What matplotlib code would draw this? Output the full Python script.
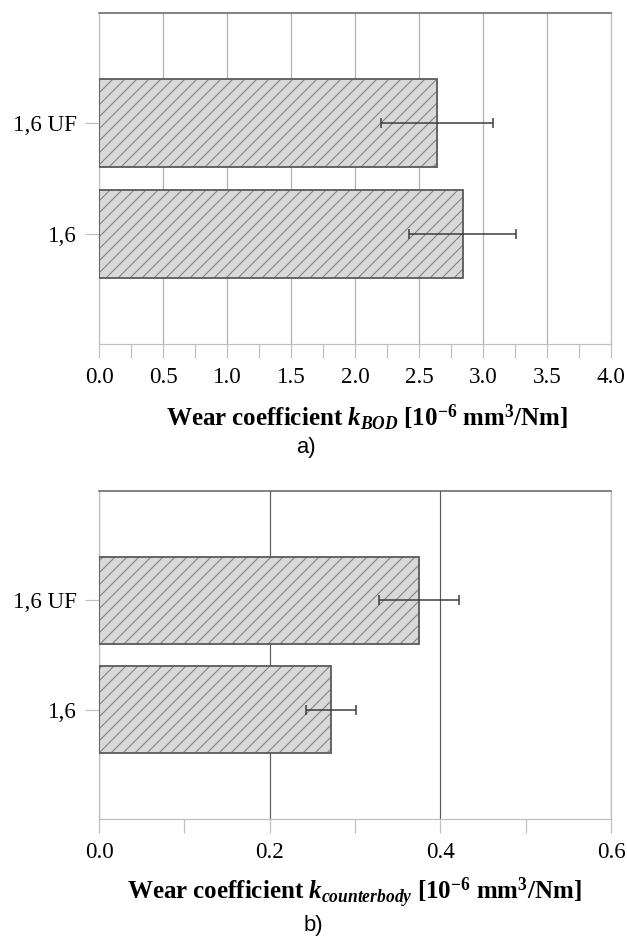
import matplotlib
matplotlib.use("Agg")
import matplotlib.pyplot as plt
from matplotlib.ticker import MultipleLocator

# data
categories = ["1,6", "1,6 UF"]
k_bod = [2.84, 2.64]
k_bod_err = [0.42, 0.44]
k_cb = [0.272, 0.375]
k_cb_err = [0.029, 0.047]

plt.rcParams["font.family"] = ["Liberation Serif", "DejaVu Serif"]
plt.rcParams["mathtext.fontset"] = "custom"
plt.rcParams["mathtext.rm"] = "Liberation Serif"
plt.rcParams["mathtext.it"] = "Liberation Serif:italic"
plt.rcParams["mathtext.bf"] = "Liberation Serif:bold"
plt.rcParams["mathtext.bfit"] = "Liberation Serif:italic:bold"
plt.rcParams["hatch.linewidth"] = 1.0

W, H = 627, 946
fig = plt.figure(figsize=(W / 72, H / 72), dpi=72)

def px(x, y):
    return x / W, 1 - y / H

def make_panel(top, bottom, vals, errs, xmax, major, minor, gridcol):
    l, t = px(99, top)
    r, b = px(611, bottom)
    ax = fig.add_axes([l, b, r - l, t - b])
    y = range(len(categories))
    ax.barh(y, vals, height=0.8, color="#d9d9d9", edgecolor="#7a7a7a",
            hatch="//", linewidth=0, zorder=2)
    ax.barh(y, vals, height=0.8, fill=False, edgecolor="#5a5a5a",
            linewidth=1.8, zorder=3)
    ax.errorbar(vals, y, xerr=errs, fmt="none", ecolor="#3a3a3a",
                elinewidth=1.5, capsize=5, capthick=1.5, zorder=4)
    ax.set_xlim(0, xmax)
    ax.set_ylim(-1, 2)
    ax.set_yticks(list(y))
    ax.set_yticklabels(categories)
    ax.xaxis.set_major_locator(MultipleLocator(major))
    ax.xaxis.set_minor_locator(MultipleLocator(minor))
    ax.xaxis.set_major_formatter(matplotlib.ticker.FormatStrFormatter("%.1f"))
    ax.grid(axis="x", which="major", color=gridcol, linewidth=1.2, zorder=0)
    ax.set_axisbelow(True)
    ax.tick_params(axis="x", which="both", direction="out", length=14,
                   width=1.2, color="#bfbfbf", labelsize=23, pad=9)
    ax.tick_params(axis="y", direction="out", length=14, width=1.2,
                   color="#bfbfbf", labelsize=23, pad=8)
    for s in ["left", "bottom", "right"]:
        ax.spines[s].set_color("#bfbfbf")
        ax.spines[s].set_linewidth(1.2)
    ax.spines["top"].set_color("#5f5f5f")
    ax.spines["top"].set_linewidth(1.5)
    return ax

make_panel(13, 344, k_bod, k_bod_err, 4.0, 0.5, 0.25, "#b0b0b0")
make_panel(491, 819, k_cb, k_cb_err, 0.6, 0.2, 0.1, "#5a5a5a")

fig.text(*px(367, 418),
         r"$\mathbf{Wear\ coefficient}\ \mathbfit{k}_{\mathbfit{BOD}}\ \mathbf{[10^{-6}\ mm^{3}/Nm]}$",
         ha="center", va="center", fontsize=25)
fig.text(*px(306, 447), "a)", ha="center", va="center", fontsize=22,
         family="Liberation Sans")
fig.text(*px(354, 893),
         r"$\mathbf{Wear\ coefficient}\ \mathbfit{k}_{\mathbfit{counterbody}}\ \mathbf{[10^{-6}\ mm^{3}/Nm]}$",
         ha="center", va="center", fontsize=25)
fig.text(*px(313, 926), "b)", ha="center", va="center", fontsize=22,
         family="Liberation Sans")

fig.savefig("out.png", dpi=72)
